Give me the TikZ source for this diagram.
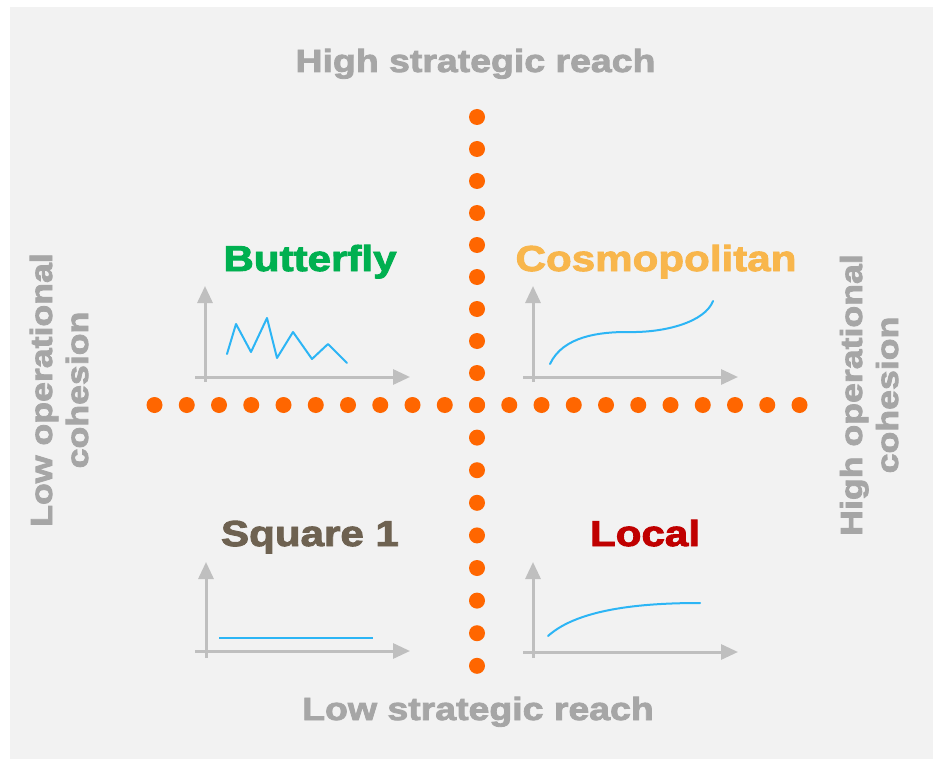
\documentclass[tikz,border=0pt]{standalone}
\usepackage{fontspec}
\newfontfamily\heavy{Liberation Sans Bold}[FakeStretch=1.17,FakeBold=2.6]
\usetikzlibrary{arrows.meta}
\definecolor{panel}{HTML}{F2F2F2}
\definecolor{axisgray}{HTML}{A6A6A6}
\definecolor{axgray}{HTML}{BFBFBF}
\definecolor{dotorange}{HTML}{FF6600}
\definecolor{cblue}{HTML}{2CB5F5}
\definecolor{cgreen}{HTML}{00B050}
\definecolor{corange}{HTML}{F8B64C}
\definecolor{cbrown}{HTML}{6E6251}
\definecolor{cred}{HTML}{C00000}
\tikzset{
  axislabel/.style={font=\heavy\fontsize{32}{36}\selectfont, text=axisgray, inner sep=0pt, anchor=base},
  sidelabel/.style={font=\heavy\fontsize{30.5}{34}\selectfont, text=axisgray, inner sep=0pt, anchor=base, rotate=90},
  quadlabel/.style={font=\heavy\fontsize{36}{40}\selectfont, inner sep=0pt, anchor=base},
  chartaxis/.style={draw=axgray, line width=3pt, -{Triangle[length=17pt,width=15pt]}},
  chartline/.style={draw=cblue, line width=2pt, line join=round, line cap=round},
  dot/.style={fill=dotorange},
}
\begin{document}
\begin{tikzpicture}[x=1pt,y=-1pt]
\useasboundingbox (0,0) rectangle (933,759);
\fill[white] (0,0) rectangle (933,759);
\fill[panel] (10,7) rectangle (933,759);

% dotted cross
\foreach \i in {-10,...,10} \fill[dot] ({477+32.25*\i},405) circle (8);
\foreach \i in {-9,...,0} \fill[dot] (477,{405+32*\i}) circle (8);
\foreach \i in {1,...,8} \fill[dot] (477,{405+32.6*\i}) circle (8);

% axis labels
\node[axislabel] (high) at (475.5,72) {High strategic reach};
\node[axislabel] (low) at (478,720) {Low strategic reach};
\node[sidelabel] (lowop1) at (52,390) {Low operational};
\node[sidelabel] (lowop2) at (88,390) {cohesion};
\node[sidelabel] (highop1) at (862,395) {High operational};
\node[sidelabel] (highop2) at (898,395) {cohesion};

% quadrant labels
\node[quadlabel, text=cgreen] (butterfly) at (310,271) {Butterfly};
\node[quadlabel, text=corange] (cosmo) at (656,271) {Cosmopolitan};
\node[quadlabel, text=cbrown] (square) at (310,546) {Square 1};
\node[quadlabel, text=cred] (local) at (645,546) {Local};

% Butterfly chart
\draw[chartaxis] (205,382) -- (205,286);
\draw[chartaxis] (195,377) -- (410,377);
\draw[chartline] (227,354) -- (236,324) -- (251,352) -- (267,318) -- (277,358) -- (293,332) -- (312,359) -- (328,344) -- (347,363);

% Cosmopolitan chart
\draw[chartaxis] (533,382) -- (533,286);
\draw[chartaxis] (523,377) -- (738,377);
\draw[chartline] (550,364) .. controls (563,336) and (600,332) .. (627,332) .. controls (665,333) and (705,322) .. (713,301);

% Square 1 chart
\draw[chartaxis] (206,658) -- (206,562);
\draw[chartaxis] (195,651) -- (410,651);
\draw[chartline, line cap=butt] (219,638) -- (373,638);

% Local chart
\draw[chartaxis] (533,658) -- (533,562);
\draw[chartaxis] (523,652) -- (738,652);
\draw[chartline] (548,636) .. controls (580,607) and (650,603) .. (700,603);
\end{tikzpicture}
\end{document}
